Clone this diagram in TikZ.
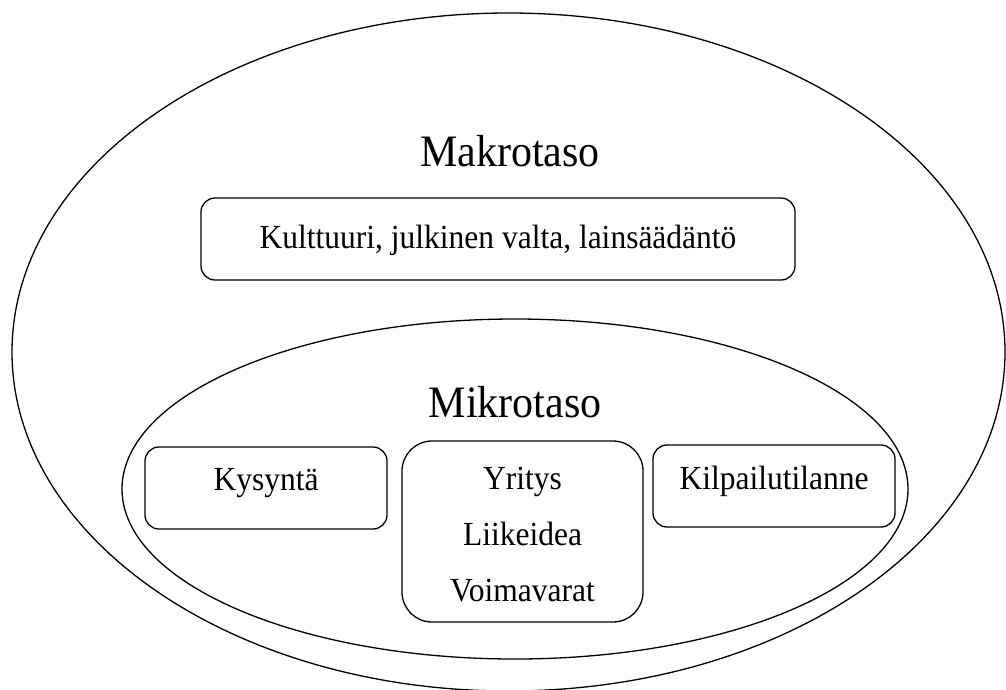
\documentclass[tikz,border=0pt]{standalone}
\usepackage{fontspec}
\setmainfont{Liberation Serif}
\usetikzlibrary{shapes.geometric}
% slightly tall lettering
\newcommand{\tallText}[1]{\scalebox{1}[1.07]{#1}}
\begin{document}
\begin{tikzpicture}[x=1pt,y=-1pt,
  ring/.style={draw, line width=1.3pt, ellipse, inner sep=0pt},
  roundbox/.style={draw, line width=1.3pt, rounded corners=#1, inner sep=0pt},
  roundbox/.default=14pt,
  label/.style={anchor=base, inner sep=0pt, font=\fontsize{31.5}{36}\selectfont},
  title/.style={anchor=base, inner sep=0pt, font=\fontsize{42}{48}\selectfont}]
\useasboundingbox (0,0) rectangle (1006,689);
% level rings
\node[ring, minimum width=993pt, minimum height=678pt] (macro) at (508.5,352) {};
\node[ring, minimum width=786pt, minimum height=340pt] (micro) at (515,489) {};
% macro level
\node[title] (macrotitle) at (510,166) {\tallText{Makrotaso}};
\node[roundbox, minimum width=594pt, minimum height=82pt] (culture) at (498,239) {};
\node[label] (culturetext) at (498,248) {\tallText{Kulttuuri, julkinen valta, lainsäädäntö}};
% micro level
\node[title] (microtitle) at (515,417) {\tallText{Mikrotaso}};
\node[roundbox, minimum width=242pt, minimum height=82pt] (demand) at (266,488) {};
\node[label] (demandtext) at (266,490) {\tallText{Kysyntä}};
\node[roundbox=30pt, minimum width=241pt, minimum height=181pt] (firm) at (522.5,531.5) {};
\node[label] (firm1) at (522.5,489) {\tallText{Yritys}};
\node[label] (firm2) at (522.5,545) {\tallText{Liikeidea}};
\node[label] (firm3) at (522.5,601) {\tallText{Voimavarat}};
\node[roundbox, minimum width=242pt, minimum height=82pt] (rivals) at (774,486) {};
\node[label] (rivalstext) at (774,489) {\tallText{Kilpailutilanne}};
\end{tikzpicture}
\end{document}
